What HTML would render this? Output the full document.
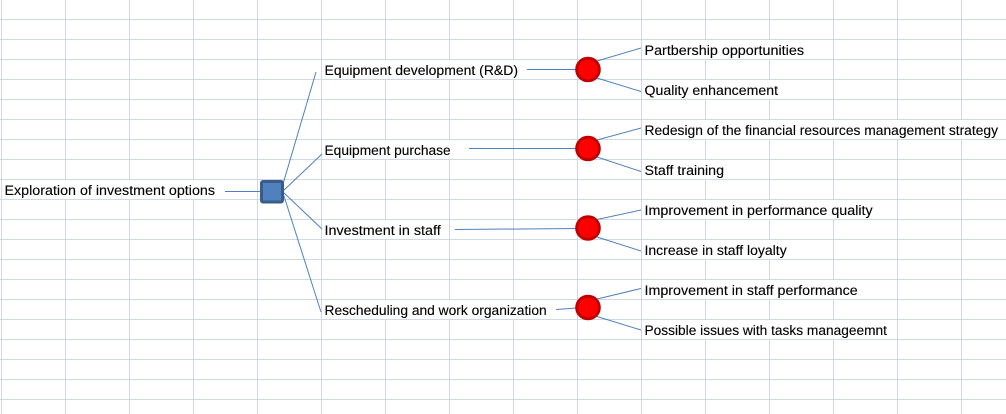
<!DOCTYPE html>
<html>
<head>
<meta charset="utf-8">
<style>
html,body{margin:0;padding:0;background:#fff;width:1006px;height:414px;overflow:hidden}
svg{display:block}
text{font-family:"Liberation Sans",sans-serif;font-size:13.5px;fill:#000;stroke:#000;stroke-width:.12px}
</style>
</head>
<body>
<svg width="1006" height="414" viewBox="0 0 1006 414" xmlns="http://www.w3.org/2000/svg">
<rect width="1006" height="414" fill="#fff"/>
<g fill="#d0d7e5" shape-rendering="crispEdges">
<rect x="0" y="19" width="1006" height="1"/><rect x="0" y="39" width="1006" height="1"/><rect x="0" y="59" width="1006" height="1"/><rect x="0" y="79" width="1006" height="1"/><rect x="0" y="99" width="1006" height="1"/><rect x="0" y="119" width="1006" height="1"/><rect x="0" y="139" width="1006" height="1"/><rect x="0" y="159" width="1006" height="1"/><rect x="0" y="179" width="1006" height="1"/><rect x="0" y="199" width="1006" height="1"/><rect x="0" y="219" width="1006" height="1"/><rect x="0" y="239" width="1006" height="1"/><rect x="0" y="259" width="1006" height="1"/><rect x="0" y="279" width="1006" height="1"/><rect x="0" y="299" width="1006" height="1"/><rect x="0" y="319" width="1006" height="1"/><rect x="0" y="339" width="1006" height="1"/><rect x="0" y="359" width="1006" height="1"/><rect x="0" y="379" width="1006" height="1"/><rect x="0" y="399" width="1006" height="1"/>
<rect x="1" y="0" width="1" height="414"/><rect x="65" y="0" width="1" height="414"/><rect x="129" y="0" width="1" height="414"/><rect x="193" y="0" width="1" height="414"/><rect x="257" y="0" width="1" height="414"/><rect x="321" y="0" width="1" height="414"/><rect x="385" y="0" width="1" height="414"/><rect x="449" y="0" width="1" height="414"/><rect x="513" y="0" width="1" height="414"/><rect x="577" y="0" width="1" height="414"/><rect x="641" y="0" width="1" height="414"/><rect x="705" y="0" width="1" height="414"/><rect x="769" y="0" width="1" height="414"/><rect x="833" y="0" width="1" height="414"/><rect x="897" y="0" width="1" height="414"/><rect x="961" y="0" width="1" height="414"/>
</g>
<g fill="#fff" shape-rendering="crispEdges">
<rect x="2" y="180" width="255" height="19"/>
<rect x="322" y="60" width="255" height="19"/>
<rect x="322" y="140" width="191" height="19"/>
<rect x="322" y="220" width="127" height="19"/>
<rect x="322" y="300" width="255" height="19"/>
<rect x="642" y="40" width="191" height="19"/>
<rect x="642" y="80" width="191" height="19"/>
<rect x="642" y="120" width="364" height="19"/>
<rect x="642" y="160" width="127" height="19"/>
<rect x="642" y="200" width="255" height="19"/>
<rect x="642" y="240" width="191" height="19"/>
<rect x="642" y="280" width="255" height="19"/>
<rect x="642" y="320" width="255" height="19"/>
</g>
<g stroke="#4f81bd" stroke-width="1" fill="none">
<line x1="225" y1="191.5" x2="261" y2="191.5"/>
<line x1="283" y1="184" x2="316" y2="72"/>
<line x1="283" y1="191" x2="322" y2="154"/>
<line x1="283" y1="192" x2="322" y2="229"/>
<line x1="283" y1="193" x2="321" y2="312"/>
<line x1="527" y1="69.5" x2="577" y2="69.5"/>
<line x1="469" y1="148.5" x2="577" y2="148.5"/>
<line x1="455" y1="229.5" x2="577" y2="228.5"/>
<line x1="556" y1="309.5" x2="577" y2="308"/>
<line x1="597" y1="61" x2="641" y2="48"/>
<line x1="597" y1="78" x2="641" y2="91.5"/>
<line x1="597" y1="140" x2="641" y2="128"/>
<line x1="597" y1="157" x2="641" y2="171.5"/>
<line x1="597" y1="219.5" x2="641" y2="210"/>
<line x1="597" y1="237" x2="641" y2="251"/>
<line x1="597" y1="299" x2="641" y2="288.5"/>
<line x1="597" y1="316.5" x2="641" y2="330"/>
</g>
<rect x="261.5" y="181.5" width="21" height="20.5" rx="1.5" fill="#4f81bd" stroke="#385d8a" stroke-width="3"/>
<g fill="#ff0000" stroke="#c00000" stroke-width="3">
<circle cx="588" cy="69.5" r="11.3"/>
<circle cx="588" cy="148.5" r="11.3"/>
<circle cx="588" cy="228" r="11.3"/>
<circle cx="588" cy="307.5" r="11.3"/>
</g>
<text x="4.5" y="195" textLength="210.5" lengthAdjust="spacingAndGlyphs">Exploration of investment options</text>
<text x="324.5" y="75" textLength="193.5" lengthAdjust="spacingAndGlyphs">Equipment development (R&amp;D)</text>
<text x="324.5" y="155" textLength="126.2" lengthAdjust="spacingAndGlyphs">Equipment purchase</text>
<text x="324.5" y="235" textLength="116.2" lengthAdjust="spacingAndGlyphs">Investment in staff</text>
<text x="324.5" y="315" textLength="222.2" lengthAdjust="spacingAndGlyphs">Rescheduling and work organization</text>
<text x="644.5" y="55" textLength="159.5" lengthAdjust="spacingAndGlyphs">Partbership opportunities</text>
<text x="644.5" y="95" textLength="133.5" lengthAdjust="spacingAndGlyphs">Quality enhancement</text>
<text x="644.5" y="135" textLength="353.5" lengthAdjust="spacingAndGlyphs">Redesign of the financial resources management strategy</text>
<text x="644.5" y="175" textLength="79.5" lengthAdjust="spacingAndGlyphs">Staff training</text>
<text x="644.5" y="215" textLength="228.2" lengthAdjust="spacingAndGlyphs">Improvement in performance quality</text>
<text x="644.5" y="255" textLength="142.2" lengthAdjust="spacingAndGlyphs">Increase in staff loyalty</text>
<text x="644.5" y="295" textLength="213.2" lengthAdjust="spacingAndGlyphs">Improvement in staff performance</text>
<text x="644.5" y="335" textLength="242.5" lengthAdjust="spacingAndGlyphs">Possible issues with tasks manageemnt</text>
</svg>
</body>
</html>
